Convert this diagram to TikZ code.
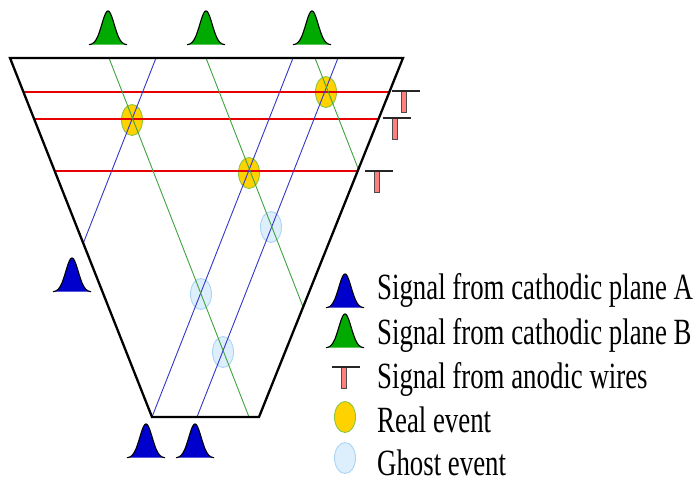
\documentclass[tikz,border=0pt]{standalone}
\usepackage{fontspec}
\usetikzlibrary{calc}
\newfontfamily\legfont[FakeStretch=0.725]{Liberation Serif}
\definecolor{peakblue}{HTML}{0000CC}
\definecolor{peakgreen}{HTML}{00AA00}
\definecolor{wireblue}{HTML}{3535C8}
\definecolor{wiregreen}{HTML}{3FA33F}
\definecolor{wirered}{HTML}{E80000}
\definecolor{realfill}{HTML}{FFD200}
\definecolor{realedge}{HTML}{8CC63F}
\definecolor{ghostfill}{HTML}{DDEFFC}
\definecolor{ghostedge}{HTML}{ABD5F5}
\definecolor{tfill}{HTML}{FF7F7F}
\tikzset{
  pics/peak/.style={code={
    \fill[#1] plot[domain=-19:19,samples=80,smooth] (\x,{-34*exp(-(\x)^2/(2*6.2^2))}) -- cycle;
    \draw[line width=1.1pt,black] plot[domain=-19:19,samples=80,smooth] (\x,{-34*exp(-(\x)^2/(2*6.2^2))});
  }},
  pics/tsig/.style={code={
    \filldraw[fill=tfill,draw=black!70,line width=0.7pt] (9,0) rectangle (14.5,21);
    \draw[line width=1.1pt,black!85] (0,0) -- (28,0);
  }},
  realev/.style={ellipse,draw=realedge,fill=realfill,line width=0.9pt,minimum width=21pt,minimum height=31pt,inner sep=0pt},
  ghostev/.style={ellipse,draw=ghostedge,fill=ghostfill,line width=0.9pt,minimum width=21pt,minimum height=31pt,inner sep=0pt},
  bluewire/.style={wireblue,line width=0.9pt},
  greenwire/.style={wiregreen,line width=0.9pt},
  redwire/.style={wirered,line width=1.2pt},
  frame/.style={black,line width=2.3pt,line join=miter},
  legtext/.style={anchor=base west,inner sep=0pt,font=\legfont\fontsize{37}{37}\selectfont}
}
\usetikzlibrary{shapes.geometric}
\begin{document}
\begin{tikzpicture}[x=1pt,y=-1pt]
\useasboundingbox (0,0) rectangle (698,483);
\coordinate (TL) at (10,58);
\coordinate (TR) at (403,58);
\coordinate (BR) at (259,417);
\coordinate (BL) at (152,417);
% events
\node[realev] (e1) at (132,120) {};
\node[realev] (e2) at (249,173) {};
\node[realev] (e3) at (326,92) {};
\node[ghostev] (g1) at (271,227) {};
\node[ghostev] (g2) at (201,294) {};
\node[ghostev] (g3) at (223,352) {};
% anodic wires
\draw[redwire] ($(TL)!34/359!(BL)$) coordinate (r1a) -- ($(TR)!34/359!(BR)$) coordinate (r1b);
\draw[redwire] ($(TL)!61/359!(BL)$) coordinate (r2a) -- ($(TR)!61/359!(BR)$) coordinate (r2b);
\draw[redwire] ($(TL)!113/359!(BL)$) coordinate (r3a) -- ($(TR)!113/359!(BR)$) coordinate (r3b);
% cathodic plane A
\coordinate (a1t) at (156,58); \coordinate (a1b) at (83.3,243.2);
\coordinate (a2t) at (293,58);
\coordinate (a3t) at (338,58); \coordinate (a3b) at (197,417);
\draw[bluewire] (a1t) -- (a1b);
\draw[bluewire] (a2t) -- (BL);
\draw[bluewire] (a3t) -- (a3b);
% cathodic plane B
\coordinate (b1t) at (109,58); \coordinate (b1b) at (249,417);
\coordinate (b2t) at (206,58); \coordinate (b2b) at (303.1,307.0);
\coordinate (b3t) at (315,58); \coordinate (b3b) at (358.4,169.2);
\draw[greenwire] (b1t) -- (b1b);
\draw[greenwire] (b2t) -- (b2b);
\draw[greenwire] (b3t) -- (b3b);
% chamber
\draw[frame] (TL) -- (TR) -- (BR) -- (BL) -- cycle;
% signals
\pic at (108,45) {peak=peakgreen};
\pic at (206,45) {peak=peakgreen};
\pic at (312,45) {peak=peakgreen};
\pic at (72,292) {peak=peakblue};
\pic at (146,458) {peak=peakblue};
\pic at (195,458) {peak=peakblue};
\pic at (392,91) {tsig};
\pic at (383,118) {tsig};
\pic at (365,171) {tsig};
% legend
\pic at (345,308) {peak=peakblue};
\pic at (345,348) {peak=peakgreen};
\pic at (332,367) {tsig};
\node[realev] (lr) at (345,417) {};
\node[ghostev] (lg) at (345,458) {};
\node[legtext] (t1) at (377,299) {Signal from cathodic plane A};
\node[legtext] (t2) at (377,344) {Signal from cathodic plane B};
\node[legtext] (t3) at (377,388) {Signal from anodic wires};
\node[legtext] (t4) at (377,432) {Real event};
\node[legtext] (t5) at (377,475) {Ghost event};
\end{tikzpicture}
\end{document}
